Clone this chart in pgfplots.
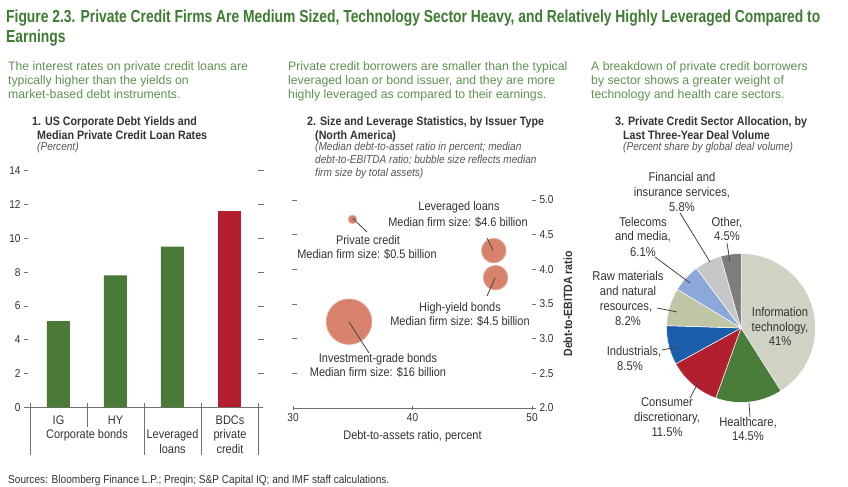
\documentclass[border=0pt]{standalone}
\usepackage{fontspec}
\setmainfont{Liberation Sans}
\newfontfamily\cnd{Liberation Sans}[FakeStretch=0.88]
\newfontfamily\ttl{Liberation Sans}[FakeStretch=0.795]
\usepackage{pgfplots}
\pgfplotsset{compat=1.18}
\definecolor{titleG}{HTML}{3E7B32}
\definecolor{subG}{HTML}{5E9150}
\definecolor{txt}{HTML}{333333}
\definecolor{ital}{HTML}{555555}
\definecolor{barG}{HTML}{4B7A38}
\definecolor{barR}{HTML}{B41F30}
\definecolor{bub}{HTML}{D8826C}
\definecolor{bubE}{HTML}{E4A594}
\definecolor{cIT}{HTML}{D0D3C3}
\definecolor{cHC}{HTML}{4A7C3A}
\definecolor{cCD}{HTML}{B2202F}
\definecolor{cIN}{HTML}{1B5EAB}
\definecolor{cRM}{HTML}{BFC6A5}
\definecolor{cTM}{HTML}{8CA7DA}
\definecolor{cFI}{HTML}{C6C7C8}
\definecolor{cOT}{HTML}{7D7D7D}
\definecolor{tk}{HTML}{707070}
\definecolor{lead}{HTML}{444444}
\newcommand\fs[1]{\fontsize{#1}{#1}\selectfont}
\begin{document}
\begin{tikzpicture}[x=1bp,y=1bp]
\path[use as bounding box] (0,0) rectangle (848,487);
% ---------- panel 1: bar chart ----------
\begin{axis}[at={(28bp,79.7bp)}, anchor=south west, scale only axis,
  width=235bp, height=236.6bp,
  xmin=-0.535, xmax=3.588, ymin=0, ymax=14,
  axis x line=bottom, axis y line=left,
  axis line style={-, draw=tk, line width=0.7pt},
  y axis line style={draw=none},
  xtick=\empty, ytick={0,2,...,14},
  tick align=outside, major tick length=4bp,
  tick style={draw=tk, line width=0.7pt},
  /pgf/number format/assume math mode=true,
  yticklabel style={font=\cnd\fs{11.5}, text=txt},
  clip=false]
\addplot[ybar, bar width=23bp, bar shift=0pt, fill=barG, draw=none] coordinates {(0,5.1) (1,7.8) (2,9.5)};
\addplot[ybar, bar width=23bp, bar shift=0pt, fill=barR, draw=none] coordinates {(3,11.6)};
\end{axis}
% ---------- panel 2: bubble chart ----------
\begin{axis}[at={(293bp,79bp)}, anchor=south west, scale only axis,
  width=239bp, height=208bp,
  xmin=30, xmax=50, ymin=2, ymax=5,
  axis x line=bottom, axis y line=right,
  axis line style={-, draw=tk, line width=0.7pt},
  y axis line style={draw=none},
  xtick={30,40,50}, ytick={2,2.5,...,5},
  xtick align=center, ytick align=outside, major tick length=4bp,
  tick style={draw=tk, line width=0.7pt},
  /pgf/number format/assume math mode=true,
  yticklabel={\pgfmathprintnumber[fixed,fixed zerofill,precision=1]{\tick}},
  ticklabel style={font=\cnd\fs{11.5}, text=txt},
  xlabel={Debt-to-assets ratio, percent},
  xlabel style={font=\cnd\fs{12.5}, text=txt, yshift=-2bp},
  ylabel={Debt-to-EBITDA ratio},
  ylabel style={font=\cnd\bfseries\fs{12}, text=txt, yshift=-3bp},
  clip=false]
\addplot[scatter, only marks, mark=*,
  scatter/use mapped color={draw=bubE, fill=bub},
  visualization depends on={\thisrow{r} \as \rad},
  scatter/@pre marker code/.append style={/tikz/mark size=\rad},
  mark options={line width=0.8pt}]
  table[x=x, y=y] {
x     y     r
34.98 4.72  4.2
46.80 4.27  12.3
46.95 3.88  12.3
34.69 3.245 22.8
};
\end{axis}
% ---------- panel 3: pie ----------
\def\pIT{41}\def\pHC{14.5}\def\pCD{11.5}\def\pIN{8.5}
\def\pRM{8.2}\def\pTM{6.1}\def\pFI{5.8}\def\pOT{4.5}
\pgfmathsetmacro\aA{90}
\pgfmathsetmacro\aB{\aA-3.6*\pIT}
\pgfmathsetmacro\aC{\aB-3.6*\pHC}
\pgfmathsetmacro\aD{\aC-3.6*\pCD}
\pgfmathsetmacro\aE{\aD-3.6*\pIN}
\pgfmathsetmacro\aF{\aE-3.6*\pRM}
\pgfmathsetmacro\aG{\aF-3.6*\pTM}
\pgfmathsetmacro\aH{\aG-3.6*\pFI}
\pgfmathsetmacro\aI{\aH-3.6*\pOT}
\def\R{74.5bp}
\begin{axis}[at={(741bp,159bp)}, anchor=center, scale only axis,
  width=149bp, height=149bp, xmin=-1, xmax=1, ymin=-1, ymax=1,
  hide axis, clip=false]
\addplot[draw=none] coordinates {(0,0)};
\filldraw[fill=cIT, draw=white, line width=0.5pt] (axis cs:0,0) -- ++(\aA:\R) arc[start angle=\aA, end angle=\aB, radius=\R] -- cycle;
\filldraw[fill=cHC, draw=white, line width=0.5pt] (axis cs:0,0) -- ++(\aB:\R) arc[start angle=\aB, end angle=\aC, radius=\R] -- cycle;
\filldraw[fill=cCD, draw=white, line width=0.5pt] (axis cs:0,0) -- ++(\aC:\R) arc[start angle=\aC, end angle=\aD, radius=\R] -- cycle;
\filldraw[fill=cIN, draw=white, line width=0.5pt] (axis cs:0,0) -- ++(\aD:\R) arc[start angle=\aD, end angle=\aE, radius=\R] -- cycle;
\filldraw[fill=cRM, draw=white, line width=0.5pt] (axis cs:0,0) -- ++(\aE:\R) arc[start angle=\aE, end angle=\aF, radius=\R] -- cycle;
\filldraw[fill=cTM, draw=white, line width=0.5pt] (axis cs:0,0) -- ++(\aF:\R) arc[start angle=\aF, end angle=\aG, radius=\R] -- cycle;
\filldraw[fill=cFI, draw=white, line width=0.5pt] (axis cs:0,0) -- ++(\aG:\R) arc[start angle=\aG, end angle=\aH, radius=\R] -- cycle;
\filldraw[fill=cOT, draw=white, line width=0.5pt] (axis cs:0,0) -- ++(\aH:\R) arc[start angle=\aH, end angle=\aI, radius=\R] -- cycle;
\end{axis}
% ---------- text (pixel coordinates, y downward) ----------
\begin{scope}[yshift=487bp, y=-1bp,
  bw/.style={anchor=base west, inner sep=0},
  bc/.style={anchor=base, inner sep=0},
  sub/.style={bw, font=\fs{12.3}, text=subG},
  ctit/.style={bw, font=\cnd\bfseries\fs{12.2}, text=txt},
  cit/.style={bw, font=\cnd\itshape\fs{11.5}, text=ital},
  lab/.style={bc, font=\cnd\fs{12.5}, text=txt}]
\node[bw, font=\ttl\bfseries\fs{17.5}, text=titleG] at (6,23) {Figure 2.3. Private Credit Firms Are Medium Sized, Technology Sector Heavy, and Relatively Highly Leveraged Compared to};
\node[bw, font=\ttl\bfseries\fs{17.5}, text=titleG] at (6,43) {Earnings};
% panel 1 header
\node[sub] at (8,71) {The interest rates on private credit loans are};
\node[sub] at (8,85) {typically higher than the yields on};
\node[sub] at (8,99) {market-based debt instruments.};
\node[ctit] at (32,126) {1. US Corporate Debt Yields and};
\node[ctit] at (37,139.5) {Median Private Credit Loan Rates};
\node[cit] at (37,151) {(Percent)};
% panel 2 header
\node[sub] at (288,71) {Private credit borrowers are smaller than the typical};
\node[sub] at (288,85) {leveraged loan or bond issuer, and they are more};
\node[sub] at (288,99) {highly leveraged as compared to their earnings.};
\node[ctit] at (307,126) {2. Size and Leverage Statistics, by Issuer Type};
\node[ctit] at (315,139.5) {(North America)};
\node[cit] at (315,151) {(Median debt-to-asset ratio in percent; median};
\node[cit] at (315,164) {debt-to-EBITDA ratio; bubble size reflects median};
\node[cit] at (315,177) {firm size by total assets)};
% panel 3 header
\node[sub] at (591,71) {A breakdown of private credit borrowers};
\node[sub] at (591,85) {by sector shows a greater weight of};
\node[sub] at (591,99) {technology and health care sectors.};
\node[ctit] at (615,126) {3. Private Credit Sector Allocation, by};
\node[ctit] at (623,139.5) {Last Three-Year Deal Volume};
\node[cit] at (623,151) {(Percent share by global deal volume)};
% panel 1 category labels and separators
\node[lab] at (58.5,424.5) {IG};
\node[lab] at (115.5,424.5) {HY};
\node[lab] at (87,439) {Corporate bonds};
\node[lab] at (172.5,439) {Leveraged};
\node[lab] at (172.5,453.5) {loans};
\node[lab] at (230,424.5) {BDCs};
\node[lab] at (230,439) {private};
\node[lab] at (230,453.5) {credit};
\foreach \sx in {30,144,201,258} \draw[tk, line width=0.7pt] (\sx,403) -- (\sx,455);
\draw[tk, line width=0.7pt] (87,403) -- (87,427);
\foreach \v in {2,4,...,14} \draw[tk, line width=0.7pt] (258,{407.3-16.9*\v}) -- (264,{407.3-16.9*\v});
% panel 2 left dashes
\foreach \v in {2.5,3,...,5} \draw[tk, line width=0.7pt] (292,{408-69.33*(\v-2)}) -- (297,{408-69.33*(\v-2)});
% bubble labels and leaders
\draw[lead, line width=0.8pt] (353,218.5) -- (367,232);
\node[lab] at (368,245) {Private credit};
\node[lab] at (367,258.5) {Median firm size: \$0.5 billion};
\draw[lead, line width=0.8pt] (487,238) -- (493,250);
\node[lab] at (459,211) {Leveraged loans};
\node[lab] at (458,227) {Median firm size: \$4.6 billion};
\draw[lead, line width=0.8pt] (495,278) -- (487,296);
\node[lab] at (460,312) {High-yield bonds};
\node[lab] at (460,326) {Median firm size: \$4.5 billion};
\draw[lead, line width=0.8pt] (349,322) -- (369,353);
\node[lab] at (378,363) {Investment-grade bonds};
\node[lab] at (378,377) {Median firm size: \$16 billion};
% pie labels and leaders
\begin{scope}[lab/.style={bc, font=\cnd\fs{12.8}, text=txt}]
\node[lab] at (780,317) {Information};
\node[lab] at (780,331.5) {technology,};
\node[lab] at (780,346) {41\%};
\draw[lead, line width=0.8pt] (749,403) -- (750,417);
\node[lab] at (748,427) {Healthcare,};
\node[lab] at (748,441) {14.5\%};
\draw[lead, line width=0.8pt] (698,383) -- (690,398);
\node[lab] at (667,407) {Consumer};
\node[lab] at (667,422) {discretionary,};
\node[lab] at (667,437) {11.5\%};
\draw[lead, line width=0.8pt] (662,350) -- (677,347);
\node[lab] at (634,356) {Industrials,};
\node[lab] at (630,371) {8.5\%};
\draw[lead, line width=0.8pt] (657,308) -- (677,312);
\node[lab] at (628,281) {Raw materials};
\node[lab] at (628,296) {and natural};
\node[lab] at (626,311) {resources,};
\node[lab] at (628,326) {8.2\%};
\draw[lead, line width=0.8pt] (655,257) -- (690,283);
\node[lab] at (643,227) {Telecoms};
\node[lab] at (643,241) {and media,};
\node[lab] at (643,257) {6.1\%};
\draw[lead, line width=0.8pt] (680,213) -- (710,262);
\node[lab] at (682,182) {Financial and};
\node[lab] at (682,197) {insurance services,};
\node[lab] at (682,212) {5.8\%};
\draw[lead, line width=0.8pt] (727,243) -- (730,262);
\node[lab] at (727,227) {Other,};
\node[lab] at (727,241) {4.5\%};
\end{scope}
% sources
\node[bw, font=\cnd\fs{11.5}, text=txt] at (8,484) {Sources: Bloomberg Finance L.P.; Preqin; S\&P Capital IQ; and IMF staff calculations.};
\end{scope}
\end{tikzpicture}
\end{document}
